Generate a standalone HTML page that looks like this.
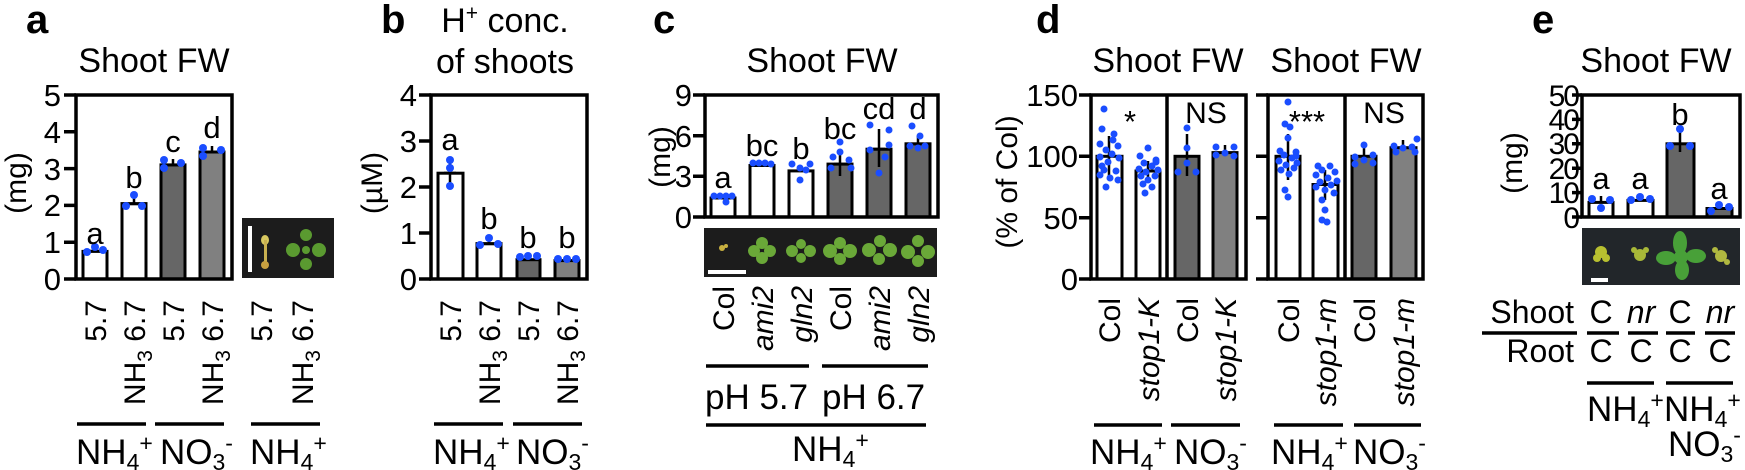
<!DOCTYPE html>
<html><head><meta charset="utf-8"><style>
html,body{margin:0;padding:0;background:#fff;}
svg{display:block;font-family:"Liberation Sans",Arial,sans-serif;}
.ax{fill:none;stroke:#000;stroke-width:3.5}
.bw{fill:#fff;stroke:#000;stroke-width:3}
.bg{fill:#666;stroke:#000;stroke-width:3}
.bl{fill:#808080;stroke:#000;stroke-width:3}
.ln{stroke:#000;stroke-width:3.5}
.eb{stroke:#000;stroke-width:2.5}
.d circle{fill:#1a4dff}
.tk{font-size:31px;text-anchor:end}
.tt{font-size:34px;text-anchor:middle}
.lt{font-size:31px;text-anchor:middle}
.rl{font-size:30px;text-anchor:end}
.gl{font-size:35px}
.pl{font-size:40px;font-weight:bold}
</style></head><body>
<svg width="1745" height="470" viewBox="0 0 1745 470" xmlns="http://www.w3.org/2000/svg">
<!-- ========== Panel a ========== -->
<text class="pl" x="26" y="33">a</text>
<text class="tt" x="154" y="72">Shoot FW</text>
<text font-size="30" text-anchor="middle" transform="translate(26,183) rotate(-90)">(mg)</text>
<rect class="bw" x="83" y="251.4" width="24" height="27.6"/>
<rect class="bw" x="122" y="203.6" width="24" height="75.4"/>
<rect class="bg" x="161" y="164.9" width="24" height="114.1"/>
<rect class="bl" x="200" y="152" width="24" height="127"/>
<path class="eb" d="M95,251 v-4 M88,251h14 M134,204 v-8 M127,204h14 M173,165v-6 M166,165h14 M212,152v-6 M205,152h14"/>
<g class="d"><circle cx="87" cy="252" r="4"/><circle cx="95" cy="247" r="4"/><circle cx="103" cy="250" r="4"/>
<circle cx="126" cy="206" r="4"/><circle cx="134" cy="195" r="4"/><circle cx="142" cy="206" r="4"/>
<circle cx="164" cy="160" r="4"/><circle cx="164" cy="168" r="4"/><circle cx="181" cy="163" r="4"/>
<circle cx="203" cy="148" r="4"/><circle cx="203" cy="156" r="4"/><circle cx="221" cy="150" r="4"/></g>
<path class="ax" d="M76,95 V279 H232 V95 Z"/>
<path class="ln" d="M64,95h12 M64,131.8h12 M64,168.6h12 M64,205.4h12 M64,242.2h12 M64,279h12"/>
<text class="tk" x="61" y="106">5</text><text class="tk" x="61" y="143">4</text><text class="tk" x="61" y="180">3</text><text class="tk" x="61" y="216">2</text><text class="tk" x="61" y="253">1</text><text class="tk" x="61" y="290">0</text>
<text class="lt" x="95" y="244">a</text><text class="lt" x="134" y="188">b</text><text class="lt" x="173" y="152">c</text><text class="lt" x="212" y="138">d</text>
<rect x="242" y="218" width="92" height="60" fill="#1c1c1c"/>
<rect x="248" y="226" width="4" height="46" fill="#fff"/>
<ellipse cx="265" cy="240" rx="4" ry="5" fill="#d8c860"/><rect x="264" y="240" width="3" height="25" fill="#c8b050"/><ellipse cx="265" cy="265" rx="4" ry="4" fill="#c8a040"/>
<g fill="#5a9a30"><circle cx="306" cy="235" r="6"/><circle cx="293" cy="250" r="7"/><circle cx="319" cy="250" r="7"/><circle cx="306" cy="264" r="6"/><circle cx="306" cy="250" r="4"/></g>
<text class="rl" transform="translate(106,300) rotate(-90)">5.7</text>
<text class="rl" transform="translate(145,300) rotate(-90)">NH<tspan font-size="21" dy="7">3</tspan><tspan dy="-7"> 6.7</tspan></text>
<text class="rl" transform="translate(184,300) rotate(-90)">5.7</text>
<text class="rl" transform="translate(223,300) rotate(-90)">NH<tspan font-size="21" dy="7">3</tspan><tspan dy="-7"> 6.7</tspan></text>
<text class="rl" transform="translate(272,300) rotate(-90)">5.7</text>
<text class="rl" transform="translate(313,300) rotate(-90)">NH<tspan font-size="21" dy="7">3</tspan><tspan dy="-7"> 6.7</tspan></text>
<path class="ln" d="M77,424H146 M155,424H224 M251,424H320"/>
<text class="gl" x="76" y="464">NH<tspan font-size="23" dy="6">4</tspan><tspan font-size="23" dy="-19">+</tspan></text>
<text class="gl" x="160" y="464">NO<tspan font-size="23" dy="6">3</tspan><tspan font-size="23" dy="-19">-</tspan></text>
<text class="gl" x="250" y="464">NH<tspan font-size="23" dy="6">4</tspan><tspan font-size="23" dy="-19">+</tspan></text>

<!-- ========== Panel b ========== -->
<text class="pl" x="381" y="33">b</text>
<text class="tt" x="505" y="32">H<tspan font-size="21" dy="-12">+</tspan><tspan dy="12"> conc.</tspan></text>
<text class="tt" x="505" y="73">of shoots</text>
<text font-size="30" text-anchor="middle" transform="translate(382,183) rotate(-90)">(µM)</text>
<rect class="bw" x="438" y="173.2" width="25" height="105.8"/>
<rect class="bw" x="477" y="243.6" width="24" height="35.4"/>
<rect class="bg" x="517" y="259.7" width="23" height="19.3"/>
<rect class="bl" x="555" y="260.6" width="24" height="18.4"/>
<path class="eb" d="M450,173v-10 M450,173v12 M444,173h12 M489,244v-4 M483,244h12"/>
<g class="d"><circle cx="450" cy="160" r="4"/><circle cx="450" cy="168" r="4"/><circle cx="450" cy="186" r="4"/>
<circle cx="480" cy="245" r="4"/><circle cx="489" cy="238" r="4"/><circle cx="498" cy="244" r="4"/>
<circle cx="520" cy="257" r="4"/><circle cx="528" cy="256" r="4"/><circle cx="537" cy="256" r="4"/>
<circle cx="558" cy="259" r="4"/><circle cx="567" cy="259" r="4"/><circle cx="576" cy="259" r="4"/></g>
<path class="ax" d="M431,95 V279 H587 V95 Z"/>
<path class="ln" d="M419,95h12 M419,141h12 M419,187h12 M419,233h12 M419,279h12"/>
<text class="tk" x="417" y="106">4</text><text class="tk" x="417" y="152">3</text><text class="tk" x="417" y="198">2</text><text class="tk" x="417" y="244">1</text><text class="tk" x="417" y="290">0</text>
<text class="lt" x="450" y="150">a</text><text class="lt" x="489" y="229">b</text><text class="lt" x="528" y="248">b</text><text class="lt" x="567" y="248">b</text>
<text class="rl" transform="translate(461,300) rotate(-90)">5.7</text>
<text class="rl" transform="translate(500,300) rotate(-90)">NH<tspan font-size="21" dy="7">3</tspan><tspan dy="-7"> 6.7</tspan></text>
<text class="rl" transform="translate(539,300) rotate(-90)">5.7</text>
<text class="rl" transform="translate(578,300) rotate(-90)">NH<tspan font-size="21" dy="7">3</tspan><tspan dy="-7"> 6.7</tspan></text>
<path class="ln" d="M434,424H503 M513,424H582"/>
<text class="gl" x="433" y="464">NH<tspan font-size="23" dy="6">4</tspan><tspan font-size="23" dy="-19">+</tspan></text>
<text class="gl" x="516" y="464">NO<tspan font-size="23" dy="6">3</tspan><tspan font-size="23" dy="-19">-</tspan></text>

<!-- ========== Panel c ========== -->
<text class="pl" x="653" y="33">c</text>
<text class="tt" x="822" y="72">Shoot FW</text>
<text font-size="30" text-anchor="middle" transform="translate(670,157) rotate(-90)">(mg)</text>
<rect class="bw" x="711" y="198" width="24" height="19"/>
<rect class="bw" x="750" y="165.5" width="24" height="51.5"/>
<rect class="bw" x="789" y="170.9" width="24" height="46.1"/>
<rect class="bg" x="828" y="164.1" width="24" height="52.9"/>
<rect class="bg" x="867" y="149.2" width="24" height="67.8"/>
<rect class="bg" x="906" y="143.8" width="24" height="73.2"/>
<path class="eb" d="M840,164v-12 M840,164v12 M834,164h12 M879,149v-20 M879,149v18 M873,149h12 M918,144v-8 M912,144h12"/>
<g class="d"><circle cx="714" cy="196" r="3.5"/><circle cx="720" cy="196" r="3.5"/><circle cx="726" cy="196" r="3.5"/><circle cx="732" cy="196" r="3.5"/><circle cx="726" cy="202" r="3.5"/>
<circle cx="753" cy="163" r="3.5"/><circle cx="759" cy="163" r="3.5"/><circle cx="765" cy="163" r="3.5"/><circle cx="771" cy="164" r="3.5"/>
<circle cx="792" cy="164" r="3.5"/><circle cx="800" cy="168" r="3.5"/><circle cx="810" cy="164" r="3.5"/><circle cx="800" cy="180" r="3.5"/><circle cx="806" cy="170" r="3.5"/>
<circle cx="831" cy="168" r="3.5"/><circle cx="840" cy="142" r="3.5"/><circle cx="849" cy="160" r="3.5"/><circle cx="833" cy="157" r="3.5"/><circle cx="851" cy="168" r="3.5"/><circle cx="840" cy="152" r="3.5"/>
<circle cx="870" cy="125" r="3.5"/><circle cx="889" cy="130" r="3.5"/><circle cx="870" cy="150" r="3.5"/><circle cx="889" cy="145" r="3.5"/><circle cx="879" cy="173" r="3.5"/><circle cx="885" cy="157" r="3.5"/>
<circle cx="912" cy="126" r="3.5"/><circle cx="920" cy="136" r="3.5"/><circle cx="910" cy="146" r="3.5"/><circle cx="925" cy="146" r="3.5"/><circle cx="918" cy="148" r="3.5"/></g>
<path class="ax" d="M705,95 V217 H938 V95 Z"/>
<path class="ln" d="M693,95h12 M693,135.7h12 M693,176.3h12 M693,217h12"/>
<text class="tk" x="692" y="106">9</text><text class="tk" x="692" y="147">6</text><text class="tk" x="692" y="187">3</text><text class="tk" x="692" y="228">0</text>
<text class="lt" x="723" y="188">a</text><text class="lt" x="762" y="156">bc</text><text class="lt" x="801" y="159">b</text><text class="lt" x="840" y="139">bc</text><text class="lt" x="879" y="119">cd</text><text class="lt" x="918" y="119">d</text>
<rect x="704" y="228" width="233" height="49" fill="#1c1c1c"/>
<rect x="708" y="270" width="38" height="4" fill="#fff"/>
<g fill="#c8b040"><circle cx="722" cy="248" r="3"/><circle cx="726" cy="246" r="2"/></g>
<g fill="#6aa838"><circle cx="762" cy="243" r="6"/><circle cx="754" cy="251" r="6"/><circle cx="770" cy="251" r="6"/><circle cx="762" cy="258" r="6"/>
<circle cx="801" cy="244" r="5"/><circle cx="792" cy="251" r="6"/><circle cx="810" cy="251" r="6"/><circle cx="801" cy="258" r="5"/>
<circle cx="840" cy="243" r="6"/><circle cx="830" cy="251" r="7"/><circle cx="850" cy="251" r="7"/><circle cx="840" cy="259" r="6"/>
<circle cx="880" cy="241" r="6"/><circle cx="869" cy="250" r="7"/><circle cx="890" cy="250" r="7"/><circle cx="879" cy="259" r="6"/>
<circle cx="918" cy="241" r="6"/><circle cx="908" cy="252" r="7"/><circle cx="928" cy="252" r="7"/><circle cx="918" cy="261" r="6"/></g>
<text class="rl" transform="translate(734,286) rotate(-90)">Col</text>
<text class="rl" font-style="italic" transform="translate(773,286) rotate(-90)">ami2</text>
<text class="rl" font-style="italic" transform="translate(812,286) rotate(-90)">gln2</text>
<text class="rl" transform="translate(851,286) rotate(-90)">Col</text>
<text class="rl" font-style="italic" transform="translate(890,286) rotate(-90)">ami2</text>
<text class="rl" font-style="italic" transform="translate(929,286) rotate(-90)">gln2</text>
<path class="ln" d="M706,366H809 M822,366H928 M706,425H926"/>
<text class="gl" x="705" y="409">pH 5.7</text>
<text class="gl" x="822" y="409">pH 6.7</text>
<text class="gl" x="792" y="461">NH<tspan font-size="23" dy="6">4</tspan><tspan font-size="23" dy="-19">+</tspan></text>

<!-- ========== Panel d ========== -->
<text class="pl" x="1036" y="33">d</text>
<text class="tt" x="1168" y="72">Shoot FW</text>
<text class="tt" x="1346" y="72">Shoot FW</text>
<text font-size="30" text-anchor="middle" transform="translate(1017,182) rotate(-90)">(% of Col)</text>
<rect class="bw" x="1097" y="156.3" width="25" height="122.7"/>
<rect class="bw" x="1136" y="171" width="24" height="108"/>
<rect class="bg" x="1175" y="156.3" width="24" height="122.7"/>
<rect class="bl" x="1213" y="152.6" width="24" height="126.4"/>
<rect class="bw" x="1276" y="156.3" width="24" height="122.7"/>
<rect class="bw" x="1313" y="184.5" width="25" height="94.5"/>
<rect class="bg" x="1352" y="156.3" width="24" height="122.7"/>
<rect class="bl" x="1391" y="147.7" width="25" height="131.3"/>
<path class="eb" d="M1109,156v-20 M1109,156v20 M1148,171v-10 M1148,171v10 M1187,156v-22 M1187,156v20 M1225,153v-8 M1288,156v-22 M1288,156v24 M1325,184v-14 M1325,184v16 M1364,156v-12 M1403,148v-8"/>
<g class="d">
<circle cx="1104" cy="109" r="3.5"/><circle cx="1102" cy="129" r="3.5"/><circle cx="1114" cy="134" r="3.5"/><circle cx="1100" cy="144" r="3.5"/><circle cx="1118" cy="146" r="3.5"/><circle cx="1106" cy="150" r="3.5"/><circle cx="1112" cy="154" r="3.5"/><circle cx="1100" cy="157" r="3.5"/><circle cx="1119" cy="158" r="3.5"/><circle cx="1108" cy="162" r="3.5"/><circle cx="1102" cy="166" r="3.5"/><circle cx="1116" cy="171" r="3.5"/><circle cx="1100" cy="175" r="3.5"/><circle cx="1110" cy="178" r="3.5"/><circle cx="1118" cy="180" r="3.5"/><circle cx="1106" cy="187" r="3.5"/><circle cx="1113" cy="140" r="3.5"/><circle cx="1104" cy="170" r="3.5"/>
<circle cx="1148" cy="148" r="3.5"/><circle cx="1140" cy="156" r="3.5"/><circle cx="1156" cy="160" r="3.5"/><circle cx="1144" cy="163" r="3.5"/><circle cx="1152" cy="166" r="3.5"/><circle cx="1139" cy="169" r="3.5"/><circle cx="1158" cy="170" r="3.5"/><circle cx="1146" cy="172" r="3.5"/><circle cx="1141" cy="176" r="3.5"/><circle cx="1155" cy="176" r="3.5"/><circle cx="1148" cy="180" r="3.5"/><circle cx="1143" cy="184" r="3.5"/><circle cx="1152" cy="187" r="3.5"/><circle cx="1145" cy="193" r="3.5"/><circle cx="1156" cy="162" r="3.5"/>
<circle cx="1187" cy="128" r="3.5"/><circle cx="1187" cy="148" r="3.5"/><circle cx="1178" cy="172" r="3.5"/><circle cx="1196" cy="172" r="3.5"/><circle cx="1187" cy="163" r="3.5"/>
<circle cx="1216" cy="147" r="3.5"/><circle cx="1225" cy="153" r="3.5"/><circle cx="1234" cy="147" r="3.5"/><circle cx="1216" cy="155" r="3.5"/><circle cx="1234" cy="156" r="3.5"/>
<circle cx="1288" cy="102" r="3.5"/><circle cx="1285" cy="124" r="3.5"/><circle cx="1290" cy="127" r="3.5"/><circle cx="1288" cy="138" r="3.5"/><circle cx="1280" cy="151" r="3.5"/><circle cx="1296" cy="152" r="3.5"/><circle cx="1284" cy="155" r="3.5"/><circle cx="1292" cy="158" r="3.5"/><circle cx="1279" cy="161" r="3.5"/><circle cx="1297" cy="163" r="3.5"/><circle cx="1286" cy="165" r="3.5"/><circle cx="1294" cy="168" r="3.5"/><circle cx="1281" cy="170" r="3.5"/><circle cx="1289" cy="174" r="3.5"/><circle cx="1285" cy="190" r="3.5"/><circle cx="1288" cy="197" r="3.5"/><circle cx="1296" cy="156" r="3.5"/>
<circle cx="1318" cy="166" r="3.5"/><circle cx="1330" cy="166" r="3.5"/><circle cx="1322" cy="170" r="3.5"/><circle cx="1335" cy="172" r="3.5"/><circle cx="1316" cy="175" r="3.5"/><circle cx="1328" cy="178" r="3.5"/><circle cx="1337" cy="181" r="3.5"/><circle cx="1320" cy="182" r="3.5"/><circle cx="1331" cy="185" r="3.5"/><circle cx="1316" cy="187" r="3.5"/><circle cx="1325" cy="190" r="3.5"/><circle cx="1334" cy="193" r="3.5"/><circle cx="1322" cy="200" r="3.5"/><circle cx="1325" cy="210" r="3.5"/><circle cx="1322" cy="220" r="3.5"/><circle cx="1327" cy="222" r="3.5"/>
<circle cx="1364" cy="145" r="3.5"/><circle cx="1355" cy="157" r="3.5"/><circle cx="1373" cy="155" r="3.5"/><circle cx="1355" cy="164" r="3.5"/><circle cx="1373" cy="163" r="3.5"/><circle cx="1364" cy="160" r="3.5"/>
<circle cx="1394" cy="146" r="3.5"/><circle cx="1403" cy="148" r="3.5"/><circle cx="1412" cy="147" r="3.5"/><circle cx="1417" cy="139" r="3.5"/><circle cx="1396" cy="152" r="3.5"/><circle cx="1415" cy="152" r="3.5"/>
</g>
<path class="ax" d="M1091,95 V279 H1246 V95 Z M1167,95V279"/>
<path class="ax" d="M1268,95 V279 H1423 V95 Z M1345,95V279"/>
<path class="ln" d="M1079,95h12 M1079,156.3h12 M1079,217.7h12 M1079,279h12 M1256,95h12 M1256,156.3h12 M1256,217.7h12 M1256,279h12"/>
<text class="tk" x="1078" y="106">150</text><text class="tk" x="1078" y="167">100</text><text class="tk" x="1078" y="229">50</text><text class="tk" x="1078" y="290">0</text>
<text class="lt" x="1130" y="132">*</text>
<text font-size="30" text-anchor="middle" x="1206" y="123">NS</text>
<text class="lt" x="1307" y="132">***</text>
<text font-size="30" text-anchor="middle" x="1384" y="123">NS</text>
<text class="rl" transform="translate(1120,298) rotate(-90)">Col</text>
<text class="rl" font-style="italic" transform="translate(1159,298) rotate(-90)">stop1-K</text>
<text class="rl" transform="translate(1198,298) rotate(-90)">Col</text>
<text class="rl" font-style="italic" transform="translate(1236,298) rotate(-90)">stop1-K</text>
<text class="rl" transform="translate(1299,298) rotate(-90)">Col</text>
<text class="rl" font-style="italic" transform="translate(1336,298) rotate(-90)">stop1-m</text>
<text class="rl" transform="translate(1375,298) rotate(-90)">Col</text>
<text class="rl" font-style="italic" transform="translate(1414,298) rotate(-90)">stop1-m</text>
<path class="ln" d="M1094,425H1162 M1171,425H1240 M1274,425H1343 M1354,425H1421"/>
<text class="gl" x="1090" y="464">NH<tspan font-size="23" dy="6">4</tspan><tspan font-size="23" dy="-19">+</tspan></text>
<text class="gl" x="1174" y="464">NO<tspan font-size="23" dy="6">3</tspan><tspan font-size="23" dy="-19">-</tspan></text>
<text class="gl" x="1271" y="464">NH<tspan font-size="23" dy="6">4</tspan><tspan font-size="23" dy="-19">+</tspan></text>
<text class="gl" x="1353" y="464">NO<tspan font-size="23" dy="6">3</tspan><tspan font-size="23" dy="-19">-</tspan></text>

<!-- ========== Panel e ========== -->
<text class="pl" x="1532" y="33">e</text>
<text class="tt" x="1656" y="72">Shoot FW</text>
<text font-size="30" text-anchor="middle" transform="translate(1522,163) rotate(-90)">(mg)</text>
<rect class="bw" x="1589" y="202.4" width="24" height="14.6"/>
<rect class="bw" x="1628" y="200.4" width="25" height="16.6"/>
<rect class="bg" x="1667" y="143.8" width="27" height="73.2"/>
<rect class="bg" x="1707" y="208.5" width="25" height="8.5"/>
<path class="eb" d="M1601,202v-6 M1680,144v-12 M1680,144v8"/>
<g class="d"><circle cx="1592" cy="199" r="4"/><circle cx="1601" cy="208" r="4"/><circle cx="1610" cy="200" r="4"/>
<circle cx="1631" cy="200" r="4"/><circle cx="1640" cy="197" r="4"/><circle cx="1650" cy="199" r="4"/>
<circle cx="1670" cy="146" r="4"/><circle cx="1680" cy="129" r="4"/><circle cx="1690" cy="146" r="4"/>
<circle cx="1711" cy="211" r="4"/><circle cx="1719" cy="205" r="4"/><circle cx="1729" cy="207" r="4"/></g>
<path class="ax" d="M1582,95 V217 H1740 V95 Z"/>
<path class="ln" d="M1572,95h10 M1572,119.4h10 M1572,143.8h10 M1572,168.2h10 M1572,192.6h10 M1572,217h10"/>
<g font-size="30" text-anchor="end" style="letter-spacing:-2px"><text x="1578" y="106">50</text><text x="1578" y="130">40</text><text x="1578" y="154">30</text><text x="1578" y="179">20</text><text x="1578" y="203">10</text><text x="1578" y="228">0</text></g>
<text class="lt" x="1601" y="189">a</text><text class="lt" x="1640" y="189">a</text><text class="lt" x="1680" y="125">b</text><text class="lt" x="1719" y="199">a</text>
<rect x="1582" y="228" width="158" height="57" fill="#22262a"/>
<rect x="1591" y="278" width="17" height="4" fill="#fff"/>
<g fill="#b8c030"><circle cx="1601" cy="252" r="6"/><circle cx="1597" cy="258" r="4"/><circle cx="1606" cy="258" r="4"/></g>
<g fill="#a8b838"><circle cx="1640" cy="255" r="6"/><circle cx="1634" cy="250" r="3"/><circle cx="1646" cy="250" r="3"/></g>
<g fill="#48a038"><ellipse cx="1680" cy="243" rx="7" ry="12"/><ellipse cx="1666" cy="258" rx="10" ry="7"/><ellipse cx="1696" cy="256" rx="10" ry="7"/><ellipse cx="1682" cy="270" rx="7" ry="10"/><circle cx="1681" cy="257" r="7"/></g>
<g fill="#b0b840"><circle cx="1721" cy="256" r="6"/><circle cx="1715" cy="250" r="3"/><circle cx="1727" cy="262" r="3"/></g>
<g font-size="32">
<text x="1574" y="323" text-anchor="end">Shoot</text>
<text x="1574" y="362" text-anchor="end">Root</text>
<text x="1601" y="323" text-anchor="middle">C</text>
<text x="1641" y="323" text-anchor="middle" font-style="italic">nr</text>
<text x="1680" y="323" text-anchor="middle">C</text>
<text x="1720" y="323" text-anchor="middle" font-style="italic">nr</text>
<text x="1601" y="362" text-anchor="middle">C</text>
<text x="1641" y="362" text-anchor="middle">C</text>
<text x="1680" y="362" text-anchor="middle">C</text>
<text x="1720" y="362" text-anchor="middle">C</text>
</g>
<path class="ln" d="M1482,333H1577 M1587,333H1619 M1628,333H1658 M1666,333H1695 M1705,333H1735 M1587,383H1654 M1666,383H1733"/>
<text class="gl" x="1587" y="421">NH<tspan font-size="23" dy="6">4</tspan><tspan font-size="23" dy="-19">+</tspan></text>
<text class="gl" x="1664" y="421">NH<tspan font-size="23" dy="6">4</tspan><tspan font-size="23" dy="-19">+</tspan></text>
<text class="gl" x="1668" y="456">NO<tspan font-size="23" dy="6">3</tspan><tspan font-size="23" dy="-19">-</tspan></text>
</svg>
</body></html>
